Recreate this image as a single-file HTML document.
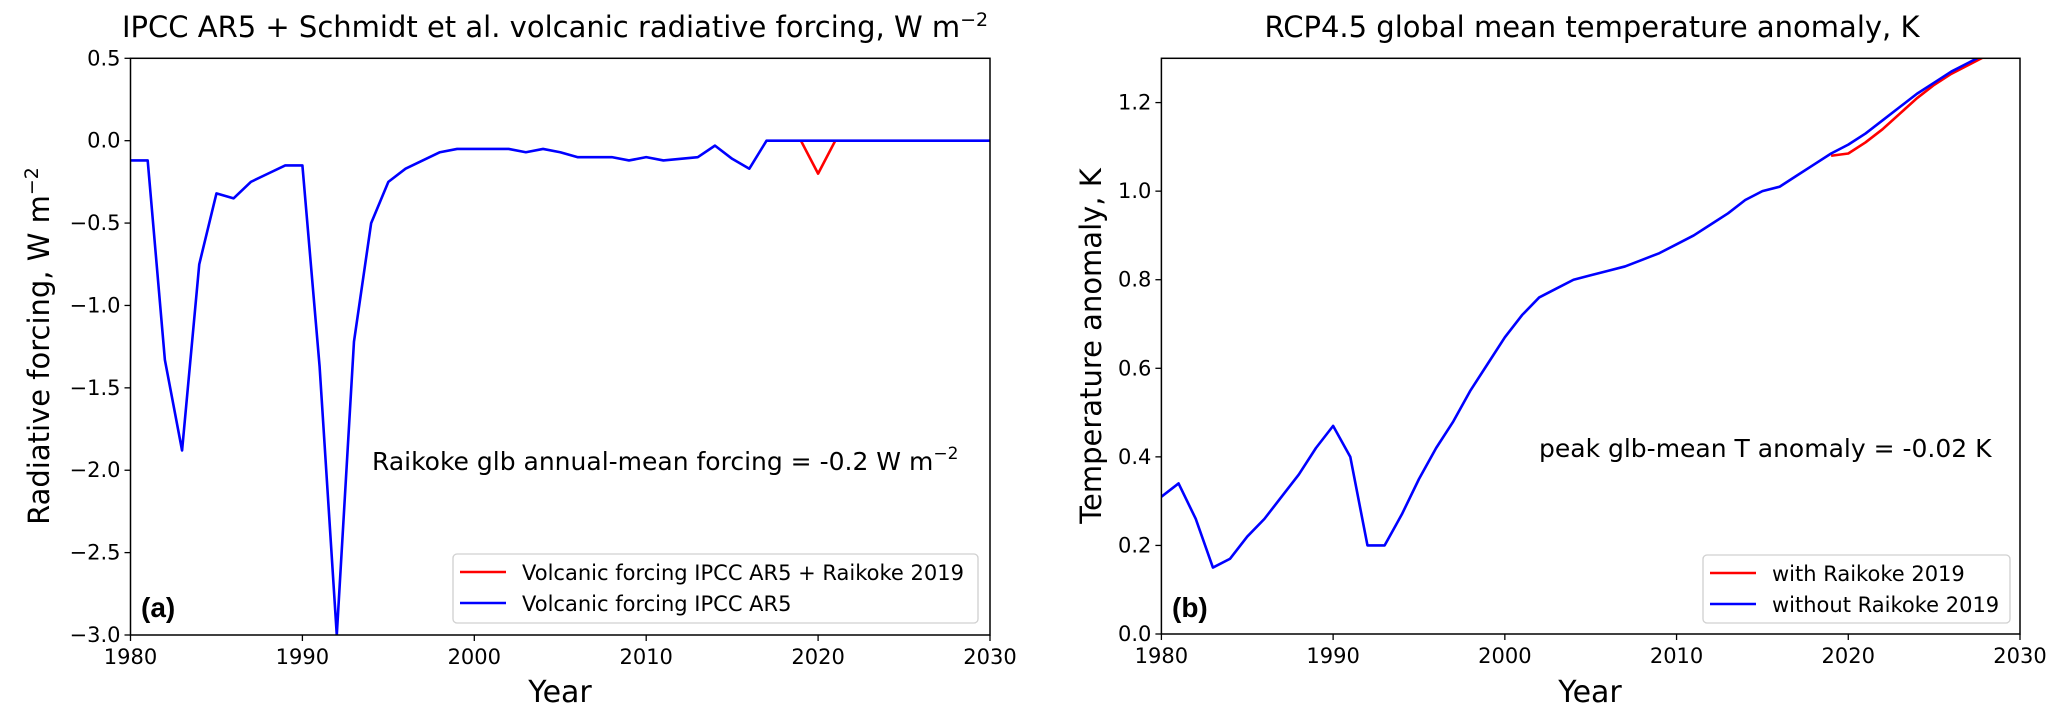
<!DOCTYPE html>
<html><head><meta charset="utf-8"><style>
body{margin:0;background:#fff}
svg{display:block;font-family:"DejaVu Sans","Liberation Sans",sans-serif}
</style></head><body>
<svg id="fig" width="2067" height="718" viewBox="0 0 2067 718" xmlns="http://www.w3.org/2000/svg"></svg>
<script>
const years = [];
for (let y = 1980; y <= 2030; y++) years.push(y);
const forcingAR5 = [-0.12,-0.12,-1.33,-1.88,-0.75,-0.32,-0.35,-0.25,-0.2,-0.15,-0.15,-1.37,-3.0,-1.22,-0.5,-0.25,-0.17,-0.12,-0.07,-0.05,-0.05,-0.05,-0.05,-0.07,-0.05,-0.07,-0.1,-0.1,-0.1,-0.12,-0.1,-0.12,-0.11,-0.1,-0.03,-0.11,-0.17,0,0,0,0,0,0,0,0,0,0,0,0,0,0];
const raikokeYears = [2019,2020,2021];
const forcingRaikoke = [0,-0.2,0];
const tempNoRaikoke = [0.31,0.34,0.26,0.15,0.17,0.22,0.26,0.31,0.36,0.42,0.47,0.40,0.20,0.20,0.27,0.35,0.42,0.48,0.55,0.61,0.67,0.72,0.76,0.78,0.80,0.81,0.82,0.83,0.845,0.86,0.88,0.90,0.925,0.95,0.98,1.00,1.01,1.035,1.06,1.085,1.105,1.13,1.16,1.19,1.22,1.245,1.27,1.29,1.31];
const tempYears = years.slice(0, tempNoRaikoke.length);
const tempRaikokeYears = [2019,2020,2021,2022,2023,2024,2025,2026,2027,2028];
const tempRaikoke = [1.08,1.085,1.11,1.14,1.175,1.21,1.24,1.265,1.285,1.305];
const xTicks = [1980,1990,2000,2010,2020,2030];
const yTicksA = [0.5,0.0,-0.5,-1.0,-1.5,-2.0,-2.5,-3.0];
const yTicksB = [0.0,0.2,0.4,0.6,0.8,1.0,1.2];

const NS = "http://www.w3.org/2000/svg";
const svg = document.getElementById('fig');
function mk(tag, attrs, parent, text){
  const e = document.createElementNS(NS, tag);
  for (const k in attrs) e.setAttribute(k, attrs[k]);
  if (text !== undefined) e.textContent = text;
  (parent || svg).appendChild(e);
  return e;
}
function fmt(v){ const s = v.toFixed(1); return s.replace('-', '\u2212'); }

function panel(id, x0, x1, y0, y1, ymin, ymax, yTicks, clipId){
  const sx = v => x0 + (v - 1980) / 50 * (x1 - x0);
  const sy = v => y1 - (v - ymin) / (ymax - ymin) * (y1 - y0);
  const g = mk('g', {});
  
  
  const cp = mk('clipPath', {id: clipId}, g);
  mk('rect', {x: x0, y: y0, width: x1 - x0, height: y1 - y0}, cp);
  xTicks.forEach(t => {
    const l = mk('line', {x1: sx(t), x2: sx(t), y1: y1, y2: y1 + 6, stroke: '#000', 'stroke-width': 1.3}, g);
    
    
    const tx = mk('text', {x: sx(t), y: y1 + 29, 'font-size': 21, 'text-anchor': 'middle'}, g, String(t));
    
    
  });
  yTicks.forEach(t => {
    const l = mk('line', {x1: x0 - 6, x2: x0, y1: sy(t), y2: sy(t), stroke: '#000', 'stroke-width': 1.3}, g);
    
    
    const tx = mk('text', {x: x0 - 10, y: sy(t) + 7, 'font-size': 21, 'text-anchor': 'end'}, g, fmt(t));
    
    
  });
  return {g, sx, sy};
}
function line(p, xs, ys, color, name, clipId){
  const d = xs.map((x, i) => (i ? 'L' : 'M') + p.sx(x).toFixed(2) + ' ' + p.sy(ys[i]).toFixed(2)).join(' ');
  const e = mk('path', {d, fill: 'none', stroke: color, 'stroke-width': 2.6, 'stroke-linejoin': 'round', 'clip-path': 'url(#' + clipId + ')'}, p.g);
  
  
}

const A = panel('panel-a', 130.5, 990, 58.3, 635, -3.0, 0.5, yTicksA, 'clipA');
line(A, raikokeYears, forcingRaikoke, '#ff0000', 'series-ar5-plus-raikoke', 'clipA');
line(A, years, forcingAR5, '#0000ff', 'series-ar5', 'clipA');
const frA = mk('rect', {x: 130.5, y: 58.3, width: 859.5, height: 576.7, fill: 'none', stroke: '#000', 'stroke-width': 1.5}, A.g);



const B = panel('panel-b', 1161.4, 2020, 58.3, 634, 0.0, 1.3, yTicksB, 'clipB');
line(B, tempRaikokeYears, tempRaikoke, '#ff0000', 'series-with-raikoke', 'clipB');
line(B, tempYears, tempNoRaikoke, '#0000ff', 'series-without-raikoke', 'clipB');
const frB = mk('rect', {x: 1161.4, y: 58.3, width: 858.6, height: 575.7, fill: 'none', stroke: '#000', 'stroke-width': 1.5}, B.g);


</script>
<script>
(function(){
  const NS = "http://www.w3.org/2000/svg";
  const svg = document.getElementById('fig');
  function t(x, y, size, anchor, html, name, extra){
    const e = document.createElementNS(NS, 'text');
    e.setAttribute('x', x); e.setAttribute('y', y);
    e.setAttribute('font-size', size); e.setAttribute('text-anchor', anchor);
    if (extra) for (const k in extra) e.setAttribute(k, extra[k]);
    e.innerHTML = html;
    
    
    svg.appendChild(e);
    return e;
  }
  const sup = s => '<tspan dy="-11" font-size="' + s + '">\u22122</tspan>';
  t(122, 37, 29, 'start', 'IPCC AR5 + Schmidt et al. volcanic radiative forcing, W m' + sup(19), 'title-a');
  t(1592, 37, 29, 'middle', 'RCP4.5 global mean temperature anomaly, K', 'title-b');
  t(560, 702, 30, 'middle', 'Year', 'x-axis-title-a');
  t(1590, 702, 30, 'middle', 'Year', 'x-axis-title-b');
  t(0, 0, 29, 'middle', 'Radiative forcing, W m' + sup(19), 'y-axis-title-a', {transform: 'translate(49,346) rotate(-90)'});
  t(0, 0, 29, 'middle', 'Temperature anomaly, K', 'y-axis-title-b', {transform: 'translate(1101,346) rotate(-90)'});
  t(372, 470, 25, 'start', 'Raikoke glb annual-mean forcing = -0.2 W m' + sup(17), 'annotation-a');
  t(1539, 457, 25, 'start', 'peak glb-mean T anomaly = -0.02 K', 'annotation-b');
  t(141, 617, 28, 'start', '(a)', 'panel-label-a', {'font-weight': 'bold', 'font-family': 'Liberation Sans, sans-serif'});
  t(1172, 617, 28, 'start', '(b)', 'panel-label-b', {'font-weight': 'bold', 'font-family': 'Liberation Sans, sans-serif'});

  function legend(x, y, w, h, entries, name){
    const g = document.createElementNS(NS, 'g');
    
    
    svg.appendChild(g);
    const r = document.createElementNS(NS, 'rect');
    r.setAttribute('x', x); r.setAttribute('y', y); r.setAttribute('width', w); r.setAttribute('height', h);
    r.setAttribute('rx', 4); r.setAttribute('fill', '#fff'); r.setAttribute('stroke', '#d0d0d0'); r.setAttribute('stroke-width', 1.3);
    g.appendChild(r);
    entries.forEach((en, i) => {
      const cy = y + 18 + i * 31;
      const l = document.createElementNS(NS, 'line');
      l.setAttribute('x1', x + 7); l.setAttribute('x2', x + 53); l.setAttribute('y1', cy); l.setAttribute('y2', cy);
      l.setAttribute('stroke', en[1]); l.setAttribute('stroke-width', 2.6);
      
      
      g.appendChild(l);
      const tx = document.createElementNS(NS, 'text');
      tx.setAttribute('x', x + 69); tx.setAttribute('y', cy + 8); tx.setAttribute('font-size', 21);
      tx.textContent = en[0];
      
      
      g.appendChild(tx);
    });
  }
  legend(453, 554, 525, 69, [['Volcanic forcing IPCC AR5 + Raikoke 2019', '#ff0000'], ['Volcanic forcing IPCC AR5', '#0000ff']], 'legend-a');
  legend(1703, 555, 307, 68, [['with Raikoke 2019', '#ff0000'], ['without Raikoke 2019', '#0000ff']], 'legend-b');
})();
</script>
</body></html>
